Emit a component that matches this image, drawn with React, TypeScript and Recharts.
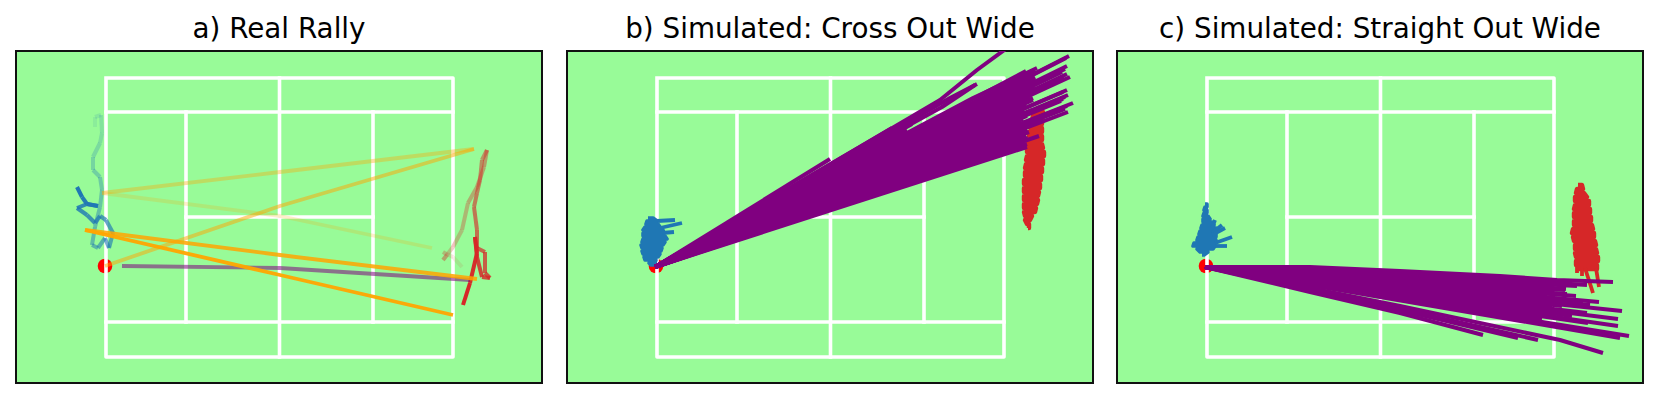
import { LineChart, Line, XAxis, YAxis } from 'recharts';

type Pt = [number, number];

// all positions are in court units, origin at the top left corner of the doubles court
const X_RANGE = [-90, 436];
const Y_RANGE = [-27, 305];

const courtLines: Pt[][] = [
  [[0, 0], [347, 0], [347, 279], [0, 279], [0, 0]],
  [[0, 34], [347, 34]],
  [[0, 244], [347, 244]],
  [[80, 34], [80, 244]],
  [[267, 34], [267, 244]],
  [[80, 139], [267, 139]],
  [[173.5, 0], [173.5, 279]],
];

const ballStart: Pt = [-1, 188];
const titles = ['a) Real Rally', 'b) Simulated: Cross Out Wide', 'c) Simulated: Straight Out Wide'];

// panel a
const rallyBlue: Pt[] = [
  [-11, 49], [-11, 39], [-5, 37], [-4, 55], [-6, 65], [-13, 79], [-13, 92], [-6, 99], [-4, 112], [-6, 129],
  [-11, 149], [-14, 167], [-8, 170], [-1, 160], [3, 170], [7, 155], [0, 142], [-6, 138], [-11, 145], [-19, 137],
  [-29, 130], [-19, 126], [-8, 128], [-19, 126], [-24, 119], [-29, 109],
];
const rallyRed: Pt[] = [
  [356, 189], [347, 179], [337, 174], [341, 177], [337, 182], [347, 169], [356, 152], [362, 125], [371, 109],
  [378, 89], [381, 72], [376, 82], [374, 102], [371, 115], [368, 129], [371, 152], [371, 170], [379, 174],
  [379, 195], [384, 200], [376, 199], [371, 179], [369, 159], [371, 175], [364, 205], [357, 227],
];
const rallyPurple: Pt[] = [[16, 188], [174, 190], [237, 194], [301, 198], [364, 202]];
const rallyShots: { pts: Pt[]; alpha: number }[] = [
  { pts: [[-1, 188], [174, 128], [368, 71]], alpha: 0.5 },
  { pts: [[368, 71], [174, 94], [-4, 115]], alpha: 0.36 },
  { pts: [[-4, 115], [174, 138], [326, 170]], alpha: 0.2 },
  { pts: [[-21, 152], [174, 177], [371, 201]], alpha: 0.85 },
  { pts: [[-21, 152], [174, 197], [347, 237]], alpha: 0.95 },
];

// panel b
const crossBlueRows = [
  [140, -9, -4], [143, -10, 0], [146, -11, 1], [149, -12, 3], [152, -14, 6], [155, -14, 7], [158, -14, 8],
  [161, -14, 10], [164, -15, 8], [167, -16, 6], [170, -15, 5], [173, -15, 4], [176, -14, 3], [179, -13, 1],
  [182, -12, -1], [185, -8, -2], [187, -6, -3],
];
const crossBlueProngs: Pt[][] = [
  [[0, 143], [18, 142]],
  [[3, 150], [25, 145]],
  [[5, 155], [17, 154]],
];
const crossRedRows = [
  [34, 377, 386], [38, 376, 386], [42, 375, 385], [46, 375, 385], [50, 373, 385], [54, 372, 385], [58, 372, 385],
  [62, 371, 385], [66, 371, 385], [70, 370, 386], [74, 370, 387], [78, 370, 387], [82, 369, 386], [86, 369, 386],
  [90, 368, 385], [94, 368, 385], [98, 368, 384], [102, 367, 384], [106, 367, 383], [110, 367, 383], [114, 367, 382],
  [118, 367, 381], [122, 367, 381], [126, 367, 380], [130, 367, 379], [134, 367, 378], [138, 368, 375], [142, 368, 373],
  [146, 370, 372], [150, 371, 372],
];
const crossShots: Pt[][] = [
  [[203, 69], [283, 22], [320, -8], [350, -30]],
  [[203, 72], [293, 20], [320, 6]],
  [[203, 74], [285, 29], [318, 7]],
  [[173, 81]],
  [[250, 52]], [[240, 53]], [[240, 50]], [[235, 50]], [[255, 46]], [[225, 58]], [[215, 63]],
  [[316, 20], [380, -10]],
  [[412, -22]], [[409, -20]], [[410, -12]], [[413, -1]], [[408, -9]], [[405, -6]], [[410, -4]], [[407, -1]],
  [[379, 2]], [[410, 12]], [[411, 17]], [[406, 21]], [[416, 25]], [[406, 14]], [[408, 19]], [[404, 23]],
  [[410, 28]], [[408, 31]], [[411, 34]], [[376, 22]], [[360, 25]], [[375, 32]], [[386, 42]], [[370, 69]],
  [[378, -7]], [[376, -4]], [[378, -1]], [[376, 5]], [[377, 8]], [[378, 11]], [[375, 14]], [[374, 17]], [[376, 20]],
  [[372, -4]], [[368, 6]], [[365, 10]], [[370, 14]], [[362, 18]], [[364, 29]], [[366, 35]], [[370, 38]],
  [[366, 41]], [[372, 45]], [[368, 48]], [[370, 51]], [[372, 54]], [[369, 57]], [[382, 58]], [[371, 60]],
  [[368, 63]], [[370, 66]], [[366, 1]], [[369, -7]], [[374, 9]], [[367, 12]], [[373, 20]], [[365, 23]],
  [[369, 27]], [[367, 32]], [[362, 44]], [[364, 47]], [[365, 50]], [[366, 53]], [[364, 56]], [[365, 59]],
  [[366, 62]], [[364, 65]],
];

// panel c
const straightBlueRows = [
  [126, -2, 0], [129, -2, 0], [132, -3, 0], [135, -3, 0], [138, -4, 1], [141, -4, 3], [144, -4, 5], [147, -5, 7],
  [150, -6, 9], [153, -7, 9], [156, -8, 9], [159, -9, 9], [162, -10, 9], [165, -13, 9], [168, -14, 8], [171, -10, 6],
  [174, -7, 1], [177, -5, -3],
];
const straightBlueProngs: Pt[][] = [
  [[5, 150], [8, 142]],
  [[5, 155], [15, 147]],
  [[5, 157], [18, 150]],
  [[8, 165], [25, 159]],
  [[8, 168], [20, 168]],
];
const straightRedRows = [
  [107, 371, 375], [111, 370, 376], [115, 369, 377], [119, 368, 380], [123, 368, 382], [127, 368, 382], [131, 367, 383],
  [135, 367, 383], [139, 367, 384], [143, 367, 384], [147, 367, 385], [151, 366, 386], [155, 365, 387], [159, 366, 387],
  [163, 367, 388], [167, 368, 389], [171, 368, 389], [175, 368, 390], [179, 369, 391], [183, 369, 391], [187, 369, 390],
  [191, 370, 390],
];
const straightRedStrands: Pt[][] = [
  [[370, 188], [370, 195]],
  [[375, 188], [375, 198]],
  [[378, 190], [386, 215]],
  [[389, 190], [392, 209]],
];
const straightShots: Pt[][] = [
  [[103, 189], [193, 193], [293, 198], [350, 202], [406, 204]],
  [[193, 195], [380, 207]],
  [[193, 197], [359, 211]],
  [[369, 218]], [[392, 224]], [[376, 224]], [[415, 233]], [[383, 227]], [[411, 241]], [[380, 235]],
  [[411, 248]], [[381, 245]], [[422, 258]], [[413, 260]],
  [[103, 210], [193, 228], [353, 262], [396, 275]],
  [[103, 211], [193, 231], [331, 262]],
  [[103, 212], [193, 232], [311, 260]],
  [[103, 214], [193, 235], [276, 257]],
  [[350, 206]], [[330, 207]], [[340, 210]], [[345, 214]], [[340, 218]], [[350, 222]], [[338, 226]], [[345, 230]],
  [[350, 233]], [[340, 237]], [[335, 241]], [[360, 216]], [[355, 228]], [[365, 238]], [[352, 204]], [[370, 208]],
  [[358, 212]], [[347, 220]], [[360, 225]],
];

const toData = (pts: Pt[]) => pts.map(([x, y]) => ({ x, y }));

// a track that sweeps back and forth over the rows of a blob
const sweep = (rows: number[][]): Pt[] =>
  rows.flatMap(([y, left, right], i) => (i % 2 === 0 ? [[left, y], [right, y]] : [[right, y], [left, y]]) as Pt[]);

const stroke = (key: string, pts: Pt[], color: string, width: number, alpha = 1, cap: 'butt' | 'square' | 'round' = 'butt') => (
  <Line
    key={key}
    data={toData(pts)}
    dataKey="y"
    type="linear"
    stroke={color}
    strokeWidth={width}
    strokeOpacity={alpha}
    strokeLinecap={cap}
    strokeLinejoin="round"
    dot={false}
    activeDot={false}
    legendType="none"
    isAnimationActive={false}
  />
);

// fading track: later pieces are drawn stronger
const fading = (key: string, pts: Pt[], color: string, width: number) =>
  pts.slice(1).map((p, i) => stroke(`${key}-${i}`, [pts[i], p], color, width, 0.1 + (0.9 * i) / (pts.length - 2)));

const fan = (key: string, shots: Pt[][], origin: Pt) =>
  shots.map((s, i) => stroke(`${key}-${i}`, [origin, ...s], 'purple', 4));

function Panel({ left, title, children }: { left: number; title: string; children: any }) {
  return (
    <>
      <div style={{ position: 'absolute', left, width: 526, top: 12, textAlign: 'center', fontFamily: 'DejaVu Sans', fontSize: 27.8, lineHeight: '34px', color: '#000', whiteSpace: 'nowrap' }}>
        {title}
      </div>
      <div style={{ position: 'absolute', left, top: 51, width: 526, height: 332, background: '#98FB98', outline: '2px solid #111', outlineOffset: '-1px' }}>
        <LineChart width={526} height={332} margin={{ top: 0, right: 0, bottom: 0, left: 0 }} style={{ position: 'absolute', left: 0, top: 0 }}>
          <XAxis type="number" dataKey="x" domain={X_RANGE} hide allowDataOverflow />
          <YAxis type="number" domain={Y_RANGE} reversed hide allowDataOverflow />
          {stroke('ball', [ballStart, ballStart], '#ff0000', 14.6, 1, 'round')}
          {courtLines.map((l, i) => stroke(`court-${i}`, l, '#fff', 3.6, 1, 'square'))}
          {children}
        </LineChart>
      </div>
    </>
  );
}

export default function App() {
  const origin: Pt = [-2, 189];
  return (
    <div style={{ position: 'absolute', left: 0, top: 0, width: 1660, height: 400, background: '#fff', overflow: 'hidden' }}>
      <Panel left={16} title={titles[0]}>
        {fading('blue', rallyBlue, '#1f77b4', 4)}
        {fading('red', rallyRed, '#d62728', 4)}
        {stroke('purple', rallyPurple, 'purple', 3.8, 0.55)}
        {rallyShots.map((s, i) => stroke(`shot-${i}`, s.pts, 'orange', 3.8, s.alpha))}
      </Panel>
      <Panel left={567} title={titles[1]}>
        {stroke('blue', sweep(crossBlueRows), '#1f77b4', 3.6)}
        {crossBlueProngs.map((p, i) => stroke(`prong-${i}`, p, '#1f77b4', 3.8))}
        {stroke('red', sweep(crossRedRows), '#d62728', 4.4)}
        {fan('shot', crossShots, origin)}
      </Panel>
      <Panel left={1117} title={titles[2]}>
        {stroke('blue', sweep(straightBlueRows), '#1f77b4', 3.6)}
        {straightBlueProngs.map((p, i) => stroke(`prong-${i}`, p, '#1f77b4', 3.8))}
        {stroke('red', sweep(straightRedRows), '#d62728', 4.4)}
        {straightRedStrands.map((p, i) => stroke(`strand-${i}`, p, '#d62728', 3.8))}
        {fan('shot', straightShots, origin)}
      </Panel>
    </div>
  );
}
